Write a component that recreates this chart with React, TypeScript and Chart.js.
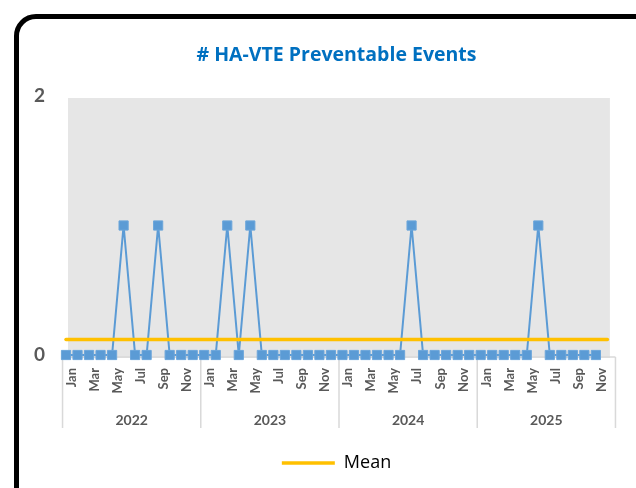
import React, { useEffect, useRef } from 'react';
import { Chart, registerables } from 'chart.js';

Chart.register(...registerables);

// ---- data ----
const years = ['2022', '2023', '2024', '2025'];
const monthTickLabels = ['Jan', '', 'Mar', '', 'May', '', 'Jul', '', 'Sep', '', 'Nov', ''];
const events2022 = [0, 0, 0, 0, 0, 1, 0, 0, 1, 0, 0, 0];
const events2023 = [0, 0, 1, 0, 1, 0, 0, 0, 0, 0, 0, 0];
const events2024 = [0, 0, 0, 0, 0, 0, 1, 0, 0, 0, 0, 0];
const events2025 = [0, 0, 0, 0, 0, 1, 0, 0, 0, 0, 0];
const meanLevel = 0.12;
const yMin = 0;
const yMax = 2;
const yStep = 2;
const titleText = '# HA-VTE Preventable Events';
const meanLabel = 'Mean';

const FONT = 'Lato, "Noto Sans", sans-serif';
const WIDE_FONT = '"Open Sans", Lato, sans-serif';

export default function App() {
  const canvasRef = useRef<HTMLCanvasElement>(null);

  useEffect(() => {
    if (!canvasRef.current) return;
    const labels = years.flatMap(() => monthTickLabels);
    const events = [...events2022, ...events2023, ...events2024, ...events2025];
    const meanSeries = labels.map(() => meanLevel);

    const decor = {
      id: 'decor',
      beforeDatasetsDraw(chart: any) {
        const { ctx, chartArea: ca, scales } = chart;
        const x = scales.x;
        const y = scales.y;
        const step = x.getPixelForValue(1) - x.getPixelForValue(0);
        ctx.save();
        // plot background
        const top = y.getPixelForValue(yMax) + 2;
        const bottom = y.getPixelForValue(yMin) + 3;
        ctx.fillStyle = '#E6E6E6';
        ctx.fillRect(ca.left + 2, top, ca.right + 2.5 - (ca.left + 2), bottom - top);
        // axis line + year separators
        const axisY = y.getPixelForValue(yMin) + 2;
        const xs = years.map((_, k) => x.getPixelForValue(12 * k) - 0.3 * step);
        xs.push(x.getPixelForValue(12 * years.length) - 0.3 * step);
        ctx.strokeStyle = '#D9D9D9';
        ctx.lineWidth = 1.5;
        ctx.beginPath();
        ctx.moveTo(xs[0], axisY);
        ctx.lineTo(xs[xs.length - 1], axisY);
        xs.forEach((px) => {
          ctx.moveTo(px, axisY);
          ctx.lineTo(px, axisY + 71);
        });
        ctx.stroke();
        ctx.restore();
      },
      afterDraw(chart: any) {
        const { ctx, scales } = chart;
        const x = scales.x;
        const y = scales.y;
        const step = x.getPixelForValue(1) - x.getPixelForValue(0);
        ctx.save();
        ctx.fillStyle = '#595959';
        ctx.font = `bold 14px ${FONT}`;
        ctx.textAlign = 'center';
        ctx.textBaseline = 'middle';
        years.forEach((yr, k) => {
          const a = x.getPixelForValue(12 * k) - 0.3 * step;
          const b = x.getPixelForValue(12 * (k + 1)) - 0.3 * step;
          ctx.fillText(yr, (a + b) / 2, y.getPixelForValue(yMin) + 65);
        });
        ctx.restore();
      },
    };

    const chart = new Chart(canvasRef.current, {
      type: 'line',
      data: {
        labels,
        datasets: [
          {
            label: titleText,
            data: events,
            borderColor: '#5B9BD5',
            backgroundColor: '#5B9BD5',
            borderWidth: 2,
            pointStyle: 'rect',
            pointRadius: 6.5,
            pointBorderWidth: 1,
            pointBackgroundColor: '#5B9BD5',
            pointBorderColor: '#6CA6DB',
            tension: 0,
            clip: false,
            order: 1,
          },
          {
            label: meanLabel,
            data: meanSeries,
            borderColor: '#FFC000',
            backgroundColor: '#FFC000',
            borderWidth: 3.5,
            borderCapStyle: 'round',
            pointRadius: 0,
            tension: 0,
            clip: false,
            order: 0,
          },
        ],
      },
      options: {
        responsive: false,
        animation: false,
        maintainAspectRatio: false,
        layout: { padding: { left: 37, right: 0, top: 20, bottom: 6 } },
        plugins: {
          title: {
            display: true,
            text: titleText,
            color: '#0070C0',
            font: { family: WIDE_FONT, size: 19.5, weight: 'bold' },
            padding: { top: 23.3, bottom: 29.3 },
          },
          legend: {
            display: true,
            position: 'bottom',
            labels: {
              filter: (item: any) => item.datasetIndex === 1,
              usePointStyle: true,
              pointStyle: 'line',
              pointStyleWidth: 53,
              color: '#000000',
              font: { family: WIDE_FONT, size: 18 },
              padding: 10,
            },
          },
          tooltip: { enabled: false },
        },
        scales: {
          x: {
            type: 'category',
            offset: false,
            grid: { display: false, drawTicks: false },
            border: { display: false },
            ticks: {
              autoSkip: false,
              maxRotation: 90,
              minRotation: 90,
              padding: 13,
              labelOffset: 5.7,
              color: '#595959',
              font: { family: FONT, size: 13, weight: 'bold' },
              callback: (_v: any, i: number) => monthTickLabels[i % 12],
            },
            afterFit: (s: any) => {
              s.height = 89;
            },
          },
          y: {
            type: 'linear',
            position: 'left',
            min: yMin,
            max: yMax,
            grid: { display: false, drawTicks: false },
            border: { display: false },
            ticks: {
              stepSize: yStep,
              mirror: true,
              padding: -32,
              color: '#595959',
              font: { family: FONT, size: 19, weight: 'bold' },
            },
            afterFit: (s: any) => {
              s.width = 29;
            },
          },
          y2: {
            type: 'linear',
            position: 'right',
            display: true,
            grid: { display: false, drawTicks: false },
            border: { display: false },
            ticks: { display: false },
            afterFit: (s: any) => {
              s.width = 24.4;
            },
          },
        },
      },
      plugins: [decor],
    });
    return () => chart.destroy();
  }, []);

  return (
    <div
      style={{
        position: 'fixed',
        left: 0,
        top: 0,
        width: 636,
        height: 488,
        overflow: 'hidden',
        background: '#ffffff',
      }}
    >
      <div
        style={{
          position: 'absolute',
          left: 14,
          top: 14,
          width: 642,
          height: 502,
          border: '5px solid #000000',
          borderRadius: 22,
          boxSizing: 'border-box',
        }}
      />
      <canvas
        ref={canvasRef}
        width={636}
        height={488}
        style={{ position: 'absolute', left: 0, top: 0, width: 636, height: 488 }}
      />
    </div>
  );
}
